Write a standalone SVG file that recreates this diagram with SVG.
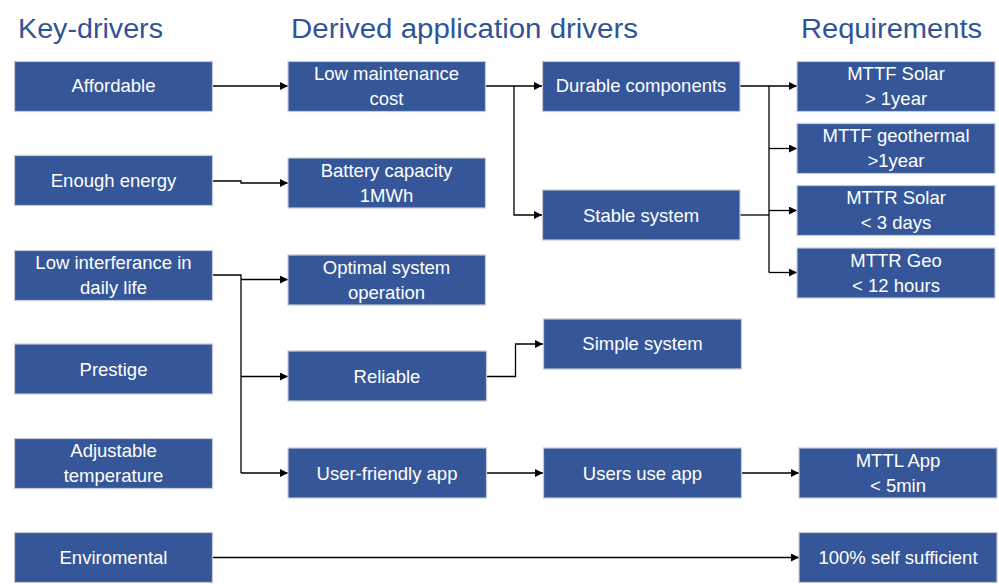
<svg xmlns="http://www.w3.org/2000/svg" width="999" height="584" viewBox="0 0 999 584">
<style>
.box{fill:#35579A;stroke:#C3CBD9;stroke-width:1.2}
.t{font-family:"Liberation Sans",Arial,sans-serif;font-size:18.5px;fill:#ffffff;text-anchor:middle}
.h{font-family:"Liberation Sans",Arial,sans-serif;font-size:27px;fill:#2F5597}
.c{fill:none;stroke:#000;stroke-width:1.3}
</style>
<defs>
<marker id="a" viewBox="0 0 10 10" refX="10" refY="5" markerWidth="8" markerHeight="8" markerUnits="userSpaceOnUse" orient="auto">
<path d="M0,0 L10,5 L0,10 z" fill="#000"/>
</marker>
</defs>
<rect width="999" height="584" fill="#ffffff"/>
<g id="headers">
<text class="h" x="18" y="38" textLength="145" lengthAdjust="spacingAndGlyphs">Key-drivers</text>
<text class="h" x="291" y="38" textLength="347" lengthAdjust="spacingAndGlyphs">Derived application drivers</text>
<text class="h" x="801" y="38" textLength="181" lengthAdjust="spacingAndGlyphs">Requirements</text>
</g>
<g id="connectors">
<path class="c" d="M212,86 H288" marker-end="url(#a)"/>
<path class="c" d="M212,181 H241 V183 H288" marker-end="url(#a)"/>
<path class="c" d="M212,275 H241 V473"/>
<path class="c" d="M241,279.5 H288" marker-end="url(#a)"/>
<path class="c" d="M241,376.5 H288" marker-end="url(#a)"/>
<path class="c" d="M241,473 H288" marker-end="url(#a)"/>
<path class="c" d="M485,86 H542" marker-end="url(#a)"/>
<path class="c" d="M514,86 V215 H542" marker-end="url(#a)"/>
<path class="c" d="M740,86 H797" marker-end="url(#a)"/>
<path class="c" d="M740,215 H769"/>
<path class="c" d="M769,86 V272.5"/>
<path class="c" d="M769,148.5 H797" marker-end="url(#a)"/>
<path class="c" d="M769,210.5 H797" marker-end="url(#a)"/>
<path class="c" d="M769,272.5 H797" marker-end="url(#a)"/>
<path class="c" d="M487,376.5 H515.5 V344 H543" marker-end="url(#a)"/>
<path class="c" d="M487,473 H543" marker-end="url(#a)"/>
<path class="c" d="M742,473 H799" marker-end="url(#a)"/>
<path class="c" d="M213,557.5 H799" marker-end="url(#a)"/>
</g>
<g id="n-affordable"><rect class="box" x="14.5" y="61.5" width="198" height="50"/><text class="t" x="113.5" y="92">Affordable</text></g>
<g id="n-enough-energy"><rect class="box" x="14.5" y="155.5" width="198" height="50"/><text class="t" x="113.5" y="187">Enough energy</text></g>
<g id="n-low-interference"><rect class="box" x="14.5" y="250.5" width="198" height="50"/><text class="t" x="113.5" y="269">Low interferance in</text><text class="t" x="113.5" y="294">daily life</text></g>
<g id="n-prestige"><rect class="box" x="14.5" y="344" width="198" height="50"/><text class="t" x="113.5" y="376">Prestige</text></g>
<g id="n-adjustable"><rect class="box" x="14.5" y="438.5" width="198" height="50"/><text class="t" x="113.5" y="457">Adjustable</text><text class="t" x="113.5" y="482">temperature</text></g>
<g id="n-enviromental"><rect class="box" x="14.5" y="532.5" width="198" height="50"/><text class="t" x="113.5" y="564">Enviromental</text></g>
<g id="n-low-maintenance"><rect class="box" x="288" y="61.5" width="197.5" height="50"/><text class="t" x="386.5" y="80">Low maintenance</text><text class="t" x="386.5" y="105">cost</text></g>
<g id="n-battery"><rect class="box" x="288" y="158" width="197.5" height="50"/><text class="t" x="386.5" y="177">Battery capacity</text><text class="t" x="386.5" y="202">1MWh</text></g>
<g id="n-optimal"><rect class="box" x="288" y="255" width="197.5" height="50"/><text class="t" x="386.5" y="274">Optimal system</text><text class="t" x="386.5" y="299">operation</text></g>
<g id="n-reliable"><rect class="box" x="288" y="351" width="198.5" height="50"/><text class="t" x="387" y="383">Reliable</text></g>
<g id="n-user-friendly"><rect class="box" x="288" y="448" width="198.5" height="50"/><text class="t" x="387" y="480">User-friendly app</text></g>
<g id="n-durable"><rect class="box" x="542.5" y="61.5" width="197.5" height="50"/><text class="t" x="641" y="92">Durable components</text></g>
<g id="n-stable"><rect class="box" x="542.5" y="190" width="197.5" height="50"/><text class="t" x="641" y="222">Stable system</text></g>
<g id="n-simple"><rect class="box" x="543.5" y="319" width="198" height="50"/><text class="t" x="642.5" y="350">Simple system</text></g>
<g id="n-users-use-app"><rect class="box" x="543.5" y="448" width="198" height="50"/><text class="t" x="642.5" y="480">Users use app</text></g>
<g id="n-mttf-solar"><rect class="box" x="797" y="61.5" width="198" height="50"/><text class="t" x="896" y="80">MTTF Solar</text><text class="t" x="896" y="105">&gt; 1year</text></g>
<g id="n-mttf-geo"><rect class="box" x="797" y="123.5" width="198" height="50"/><text class="t" x="896" y="142">MTTF geothermal</text><text class="t" x="896" y="167">&gt;1year</text></g>
<g id="n-mttr-solar"><rect class="box" x="797" y="185.5" width="198" height="50"/><text class="t" x="896" y="204">MTTR Solar</text><text class="t" x="896" y="229">&lt; 3 days</text></g>
<g id="n-mttr-geo"><rect class="box" x="797" y="248" width="198" height="50"/><text class="t" x="896" y="267">MTTR Geo</text><text class="t" x="896" y="292">&lt; 12 hours</text></g>
<g id="n-mttl"><rect class="box" x="799" y="448" width="198" height="50"/><text class="t" x="898" y="467">MTTL App</text><text class="t" x="898" y="492">&lt; 5min</text></g>
<g id="n-self-sufficient"><rect class="box" x="799" y="532.5" width="198" height="50"/><text class="t" x="898" y="564">100% self sufficient</text></g>
</svg>
